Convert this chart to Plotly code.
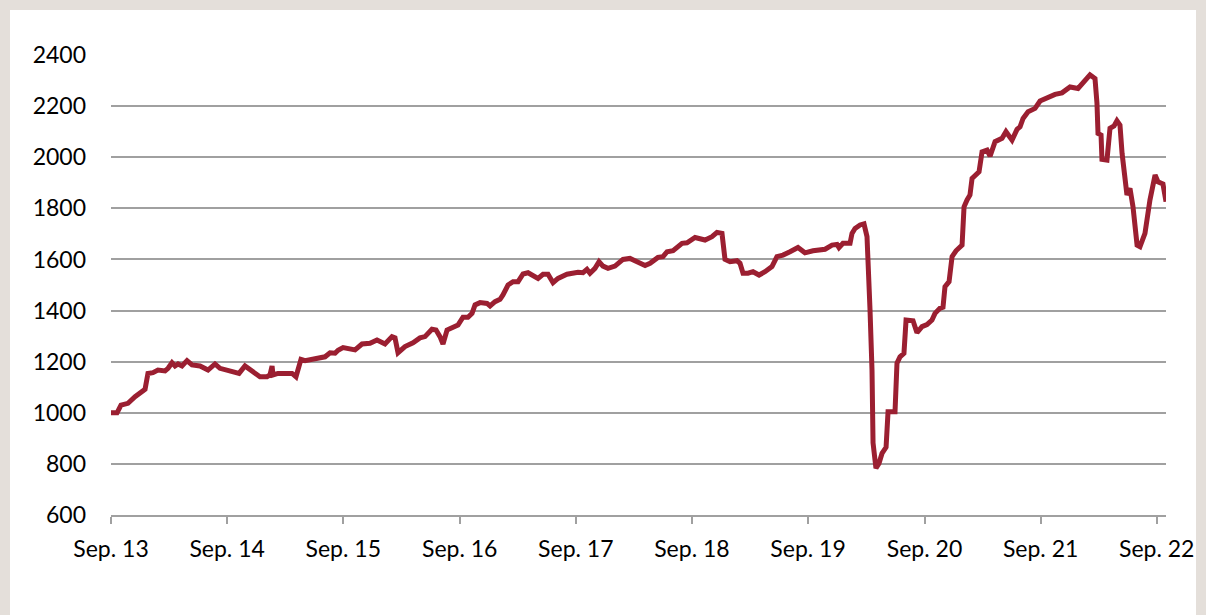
import plotly.graph_objects as go
import pandas as pd

# decimal years (Sep. 13 = 2013.667) and index values
years = [
    2013.667, 2013.719, 2013.753, 2013.813, 2013.874, 2013.917, 2013.960, 2013.985,
    2014.028, 2014.071, 2014.132, 2014.158, 2014.192, 2014.218, 2014.244, 2014.278,
    2014.321, 2014.364, 2014.433, 2014.502, 2014.562, 2014.605, 2014.674, 2014.734,
    2014.769, 2014.820, 2014.880, 2014.949, 2015.010, 2015.035, 2015.053, 2015.061,
    2015.104, 2015.147, 2015.225, 2015.259, 2015.302, 2015.337, 2015.423, 2015.509,
    2015.552, 2015.595, 2015.621, 2015.664, 2015.767, 2015.827, 2015.896, 2015.956,
    2016.025, 2016.085, 2016.111, 2016.137, 2016.197, 2016.266, 2016.326, 2016.369,
    2016.429, 2016.464, 2016.498, 2016.524, 2016.559, 2016.610, 2016.653, 2016.696,
    2016.739, 2016.774, 2016.800, 2016.843, 2016.903, 2016.929, 2016.972, 2017.015,
    2017.040, 2017.084, 2017.127, 2017.170, 2017.213, 2017.256, 2017.299, 2017.342,
    2017.385, 2017.428, 2017.471, 2017.514, 2017.591, 2017.686, 2017.729, 2017.763,
    2017.789, 2017.832, 2017.867, 2017.901, 2017.944, 2018.004, 2018.073, 2018.133,
    2018.194, 2018.263, 2018.306, 2018.374, 2018.417, 2018.452, 2018.504, 2018.581,
    2018.624, 2018.693, 2018.779, 2018.839, 2018.882, 2018.925, 2018.951, 2018.994,
    2019.054, 2019.080, 2019.106, 2019.149, 2019.192, 2019.244, 2019.295, 2019.355,
    2019.398, 2019.450, 2019.510, 2019.579, 2019.639, 2019.708, 2019.812, 2019.872,
    2019.915, 2019.932, 2019.966, 2020.027, 2020.044, 2020.070, 2020.113, 2020.147,
    2020.173, 2020.182, 2020.199, 2020.216, 2020.225, 2020.250, 2020.276, 2020.302,
    2020.337, 2020.354, 2020.414, 2020.431, 2020.457, 2020.491, 2020.509, 2020.569,
    2020.603, 2020.646, 2020.689, 2020.732, 2020.758, 2020.801, 2020.827, 2020.844,
    2020.879, 2020.905, 2020.939, 2020.991, 2021.008, 2021.034, 2021.059, 2021.077,
    2021.111, 2021.137, 2021.163, 2021.206, 2021.232, 2021.275, 2021.335, 2021.369,
    2021.421, 2021.464, 2021.490, 2021.516, 2021.559, 2021.619, 2021.662, 2021.722,
    2021.791, 2021.851, 2021.920, 2021.989, 2022.023, 2022.092, 2022.135, 2022.152,
    2022.161, 2022.187, 2022.195, 2022.238, 2022.264, 2022.299, 2022.324, 2022.350,
    2022.368, 2022.393, 2022.410, 2022.436, 2022.462, 2022.497, 2022.522, 2022.565,
    2022.608, 2022.652, 2022.677, 2022.720, 2022.746,
]
values = [
    1000, 1000, 1030, 1037, 1063, 1079, 1092, 1154,
    1157, 1167, 1164, 1174, 1196, 1183, 1191, 1183,
    1204, 1187, 1183, 1167, 1191, 1174, 1167, 1161,
    1154, 1183, 1164, 1141, 1141, 1148, 1183, 1148,
    1154, 1154, 1154, 1141, 1209, 1204, 1213, 1219,
    1235, 1233, 1245, 1255, 1246, 1269, 1272, 1285,
    1269, 1298, 1293, 1235, 1259, 1274, 1293, 1298,
    1327, 1324, 1298, 1269, 1324, 1337, 1343, 1374,
    1374, 1389, 1422, 1431, 1428, 1418, 1435, 1444,
    1461, 1500, 1513, 1513, 1543, 1548, 1539, 1526,
    1542, 1542, 1509, 1526, 1542, 1550, 1548, 1561,
    1546, 1565, 1591, 1574, 1565, 1574, 1600, 1604,
    1591, 1576, 1585, 1608, 1611, 1630, 1634, 1663,
    1665, 1686, 1676, 1689, 1706, 1702, 1600, 1591,
    1595, 1585, 1546, 1546, 1552, 1539, 1552, 1572,
    1611, 1617, 1630, 1647, 1626, 1634, 1640, 1656,
    1659, 1646, 1663, 1663, 1702, 1721, 1735, 1739,
    1689, 1532, 1402, 1167, 882, 783, 802, 841,
    865, 1004, 1004, 1194, 1219, 1233, 1363, 1360,
    1313, 1337, 1345, 1363, 1389, 1409, 1413, 1493,
    1513, 1611, 1634, 1656, 1806, 1833, 1852, 1917,
    1930, 1943, 2021, 2028, 2004, 2061, 2074, 2100,
    2067, 2109, 2119, 2152, 2178, 2191, 2220, 2234,
    2246, 2252, 2275, 2269, 2289, 2322, 2308, 2211,
    2093, 2087, 1992, 1989, 2113, 2122, 2143, 2126,
    2015, 1898, 1852, 1878, 1806, 1656, 1650, 1702,
    1833, 1930, 1904, 1895, 1826,
]
tick_dates = ["2013-09-01", "2014-09-01", "2015-09-01", "2016-09-01", "2017-09-01",
              "2018-09-01", "2019-09-01", "2020-09-01", "2021-09-01", "2022-09-01"]
tick_labels = ["Sep. 13", "Sep. 14", "Sep. 15", "Sep. 16", "Sep. 17",
               "Sep. 18", "Sep. 19", "Sep. 20", "Sep. 21", "Sep. 22"]
y_ticks = [600, 800, 1000, 1200, 1400, 1600, 1800, 2000, 2200, 2400]

base = pd.Timestamp("2013-09-01")
dates = [base + pd.Timedelta(days=(y - 2013.667) * 365.25) for y in years]

fig = go.Figure()
fig.add_trace(go.Scatter(
    x=dates, y=values, mode="lines",
    line=dict(color="#9B1F31", width=5),
    hoverinfo="skip", showlegend=False,
))

L, T, W, H = 111, 55, 1055, 460
fig.update_layout(
    width=1206, height=615,
    margin=dict(l=L, r=1206 - L - W, t=T, b=615 - T - H, pad=0),
    paper_bgcolor="#E4DFDA",
    plot_bgcolor="rgba(0,0,0,0)",
    font=dict(family="Lato, 'Open Sans', sans-serif", size=23, color="#000000"),
    shapes=[dict(
        type="rect", xref="paper", yref="paper", layer="below",
        x0=(10 - L) / W, x1=(1196 - L) / W,
        y0=(T + H - 615) / H, y1=(T + H - 10) / H,
        fillcolor="#FFFFFF", line=dict(width=0),
    )],
)
end_date = dates[-1]
fig.update_xaxes(
    range=[dates[0], end_date],
    tickvals=tick_dates, ticktext=tick_labels,
    showgrid=False, zeroline=False,
    showline=True, linecolor="#A0A0A0", linewidth=1.6,
    ticks="outside", ticklen=7, tickwidth=1.6, tickcolor="#A0A0A0",
    ticklabelstandoff=6,
)
fig.update_yaxes(
    range=[600, 2400], tickvals=y_ticks,
    showgrid=True, gridcolor="#A0A0A0", gridwidth=1.6,
    zeroline=False, showline=False, ticks="",
    ticklabelstandoff=24,
)
fig.write_html(
    "out.html",
    config={"displayModeBar": False},
    post_script="document.body.style.margin='0px';document.body.style.background='#E4DFDA';",
)
